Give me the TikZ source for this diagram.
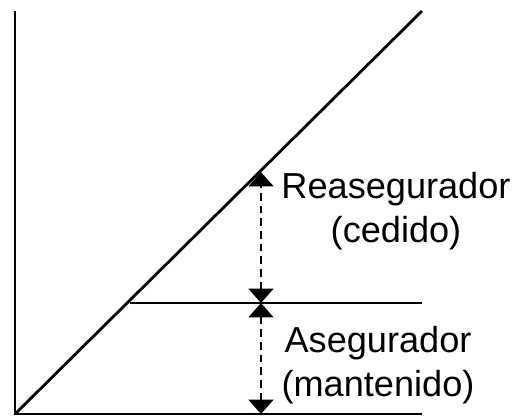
\documentclass[tikz,border=0pt]{standalone}
\usepackage{fontspec}
\setmainfont{Liberation Sans}
\usetikzlibrary{arrows.meta}

\begin{document}
\begin{tikzpicture}[x=0.025cm,y=-0.025cm,
	axis/.style={line width=2pt},
	share/.style={line width=1.9pt,dash pattern=on 5.5pt off 3.5pt,
		{Triangle[width=0.62cm,length=0.36cm]}-{Triangle[width=0.62cm,length=0.36cm]}},
	lbl/.style={align=center,anchor=base,inner sep=0pt,font=\fontsize{25.7}{30.6}\selectfont}]
	\useasboundingbox (0,0) rectangle (519,417);

	\coordinate (O) at (15,414);
	\coordinate (ytop) at (15,11);
	\coordinate (xend) at (422,414);
	\coordinate (dtop) at (422,11);
	\coordinate (ret) at (130,303);
	\coordinate (retend) at (422,303);
	\coordinate (cut) at (261,172);
	\coordinate (mid) at (261,303);
	\coordinate (bot) at (261,414);

	\draw[axis] (ytop) -- (O) -- (xend);
	\draw[axis] (O) -- (dtop);
	\draw[axis] (ret) -- (retend);

	\draw[share] (mid) -- (cut);
	\draw[share] (bot) -- (mid);

	\node[lbl] (reins) at (396,242) {Reasegurador\\(cedido)};
	\node[lbl] (insurer) at (378,396) {Asegurador\\(mantenido)};
\end{tikzpicture}
\end{document}
